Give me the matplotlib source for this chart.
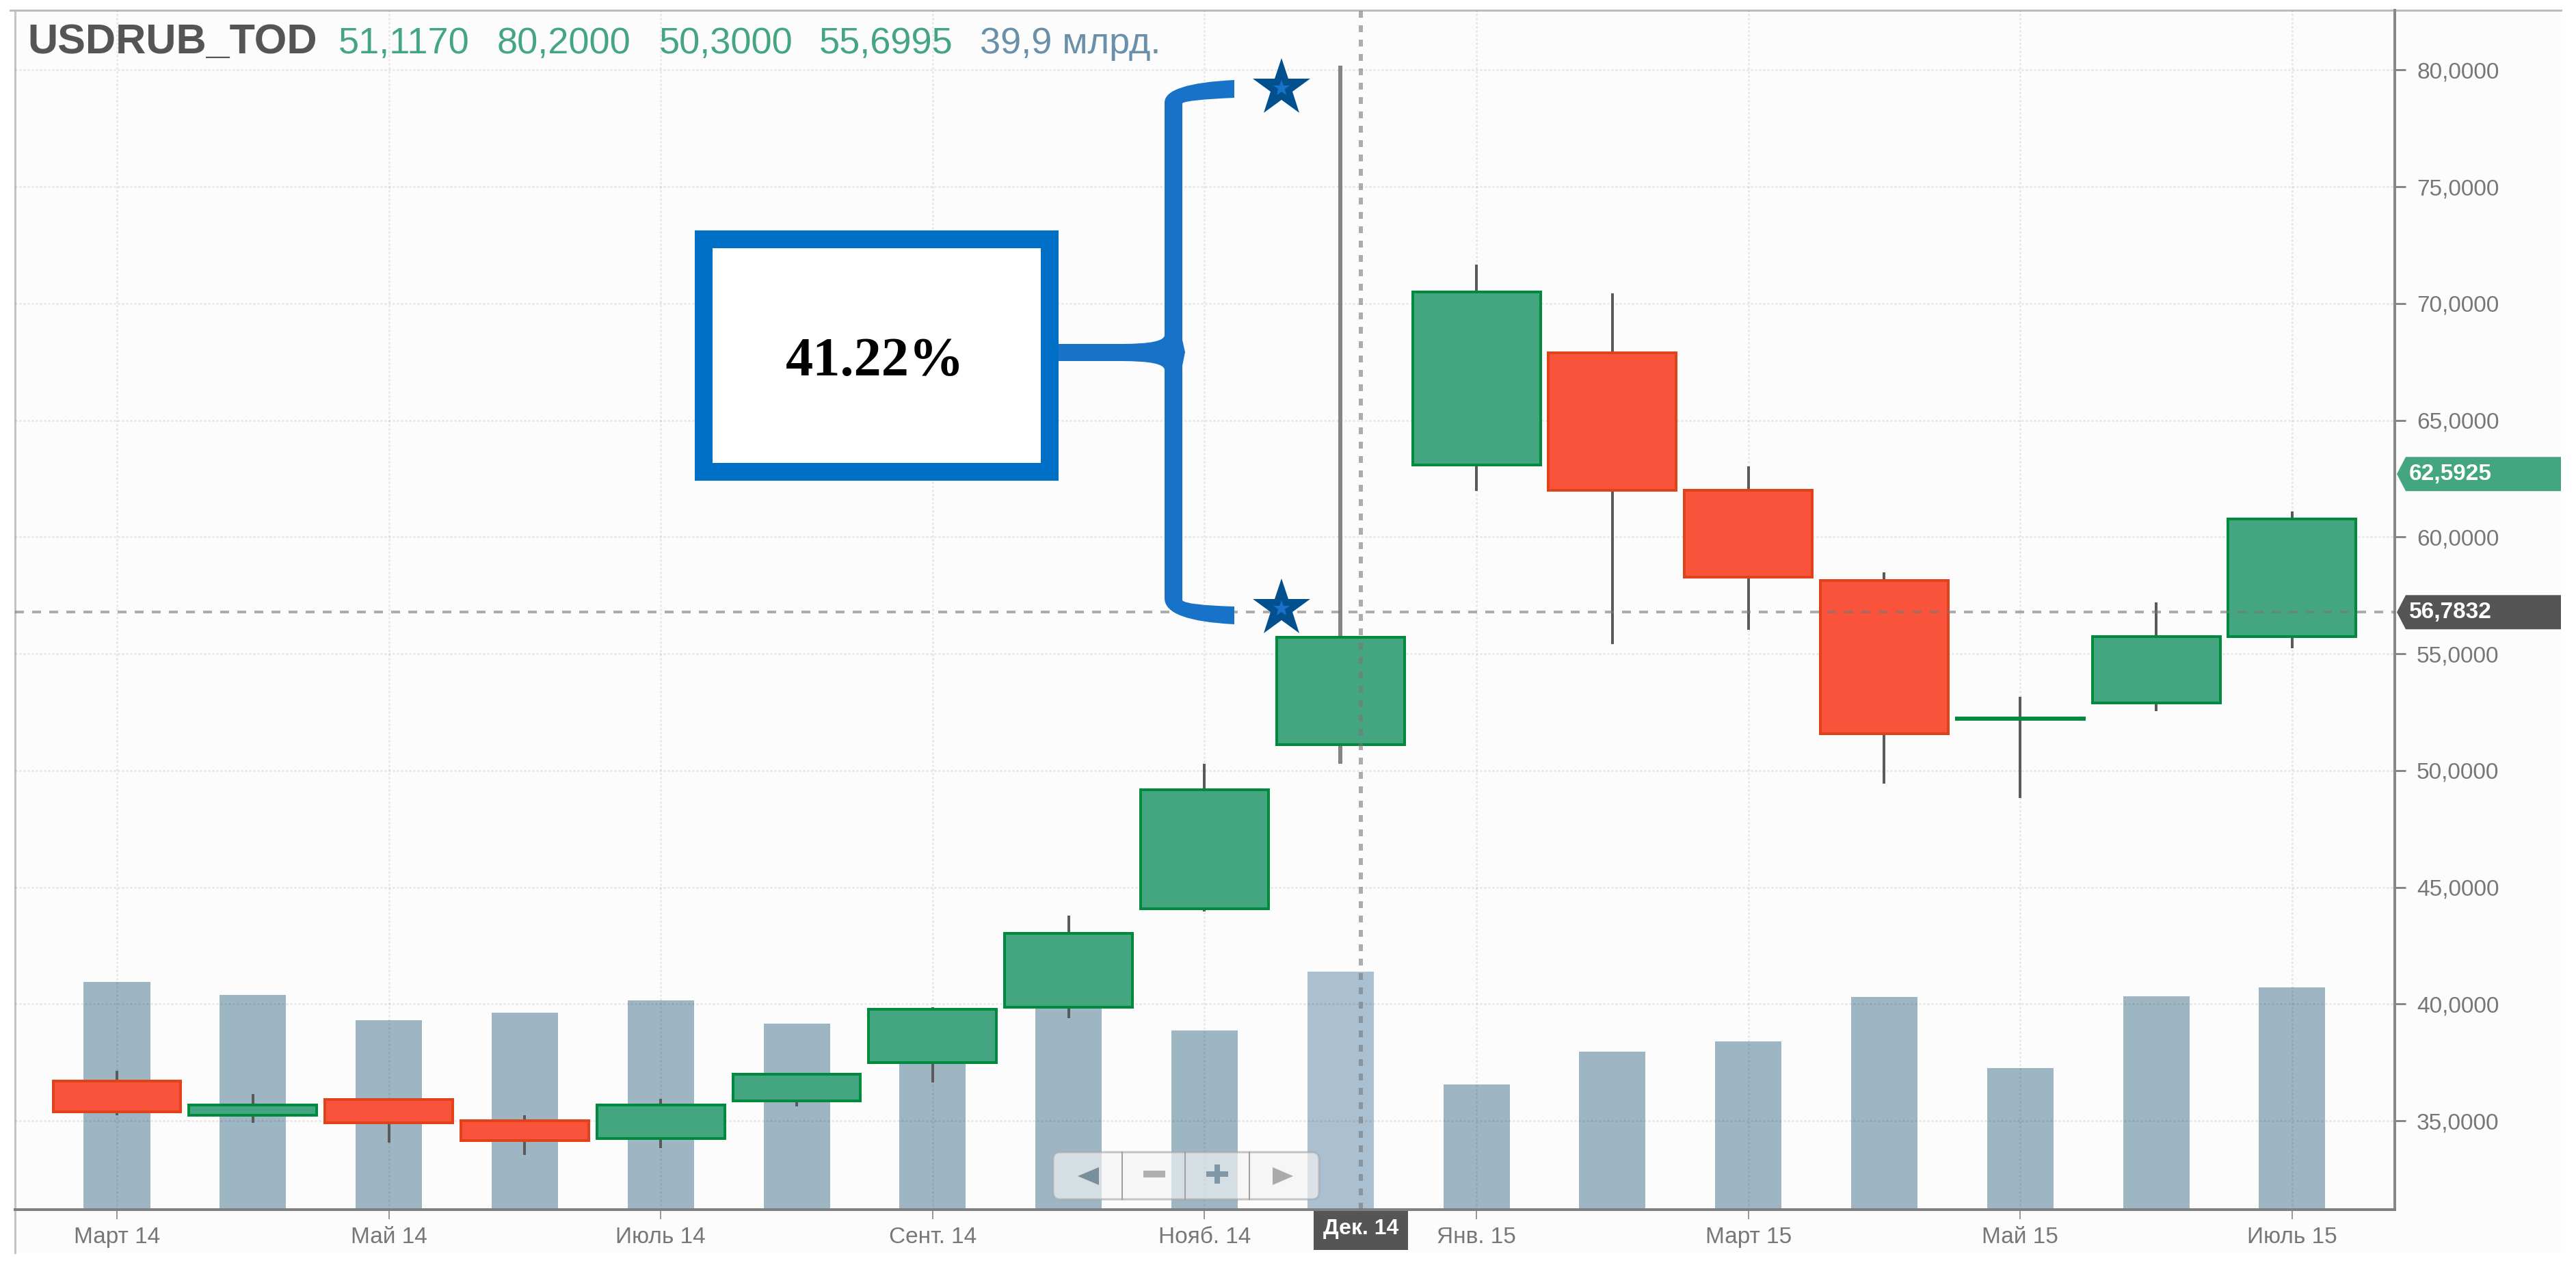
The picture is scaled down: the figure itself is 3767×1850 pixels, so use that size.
import matplotlib
matplotlib.use("Agg")
import matplotlib.pyplot as plt
from matplotlib.patches import Rectangle, Polygon, PathPatch, FancyBboxPatch
from matplotlib.path import Path

plt.rcParams["font.family"] = ["Liberation Sans", "DejaVu Sans"]

opens = [36.71, 35.24, 35.92, 35.01, 34.25, 35.86, 37.50, 39.87, 44.08, 51.117, 63.09, 67.88, 62.0, 58.14, 52.20, 52.90, 55.75]
closes = [35.39, 35.68, 34.92, 34.16, 35.68, 37.00, 39.78, 43.03, 49.18, 55.6995, 70.50, 62.0, 58.29, 51.58, 52.25, 55.75, 60.78]
highs = [37.15, 36.15, 35.92, 35.24, 35.94, 37.00, 39.87, 43.79, 50.29, 80.2, 71.67, 70.45, 63.03, 58.49, 53.16, 57.19, 61.11]
lows = [35.24, 34.92, 34.07, 33.54, 33.84, 35.62, 36.65, 39.40, 43.97, 50.3, 61.98, 55.41, 56.03, 49.44, 48.83, 52.55, 55.25]
volumes = [38.2, 36.0, 31.8, 33.0, 35.1, 31.2, 33.8, 36.6, 30.0, 39.9, 21.0, 26.5, 28.2, 35.6, 23.7, 35.8, 37.3]

month_pos = [0, 2, 4, 6, 8, 10, 12, 14, 16]
month_labels = ["Март 14", "Май 14", "Июль 14", "Сент. 14", "Нояб. 14", "Янв. 15", "Март 15", "Май 15", "Июль 15"]
price_ticks = [35, 40, 45, 50, 55, 60, 65, 70, 75, 80]
price_labels = ["35,0000", "40,0000", "45,0000", "50,0000", "55,0000", "60,0000", "65,0000", "70,0000", "75,0000", "80,0000"]

header_values = ["51,1170", "80,2000", "50,3000", "55,6995"]
header_x = [495, 727, 964, 1198]
last_price = 62.7
cross_price = 56.7832
cross_x = 9.15

W, H = 3767, 1850
PX = 0.72  # points per pixel at dpi 100
GREEN, GREEN_EDGE = "#43a680", "#008a3e"
RED, RED_EDGE = "#fa533c", "#e0421a"
BLUE = "#1872c8"

fig = plt.figure(figsize=(W / 100, H / 100), dpi=100, facecolor="white")
rect = [22 / W, 1 - 1769 / H, (3502 - 22) / W, (1769 - 15) / H]

# page layer in pixel coordinates, for the frame and the drawn-on notes
bg = fig.add_axes([0, 0, 1, 1], zorder=0)
bg.set_xlim(0, W)
bg.set_ylim(H, 0)
bg.axis("off")
bg.add_patch(Rectangle((22, 15), 3723, 1817, fc="#fcfcfc", ec="none"))
bg.plot([22, 22], [15, 1832], color="#c4c4c4", lw=3 * PX)
bg.plot([15, 3745], [15, 15], color="#bdbdbd", lw=3 * PX)

# volume sits under the candles on its own scale
vol = fig.add_axes(rect, zorder=1)
vol.patch.set_alpha(0)
vol.set_xlim(-0.7495, 16.755)
vol.set_ylim(0, 201.1)
vol.axis("off")
xs = list(range(len(volumes)))
vol_colors = ["#9cb6c9" if i == 9 else "#8eaabb" for i in xs]
vol.bar(xs, volumes, width=0.488, color=vol_colors, alpha=0.85, linewidth=0)

ax = fig.add_axes(rect, zorder=2)
ax.patch.set_alpha(0)
ax.set_xlim(-0.7495, 16.755)
ax.set_ylim(31.2, 82.56)
ax.yaxis.tick_right()
ax.set_yticks(price_ticks)
ax.set_yticklabels(price_labels, fontsize=24, color="#777777")
ax.set_xticks(month_pos)
ax.set_xticklabels(month_labels, fontsize=24, color="#777777")
ax.tick_params(axis="y", length=16 * PX, width=3 * PX, color="#888888", pad=16 * PX)
ax.tick_params(axis="x", length=14 * PX, width=2 * PX, color="#999999", pad=11 * PX)
ax.grid(True, color="black", alpha=0.08, lw=3 * PX, linestyle=(0, (1, 1)))
ax.set_axisbelow(True)
ax.spines["top"].set_visible(False)
ax.spines["left"].set_visible(False)
ax.spines["right"].set_color("#888888")
ax.spines["right"].set_linewidth(4 * PX)
ax.spines["bottom"].set_color("#808080")
ax.spines["bottom"].set_linewidth(4 * PX)

for i in xs:
    if i == 9:
        ax.vlines(i, lows[i], highs[i], color="#858585", lw=6 * PX, zorder=3)
    else:
        ax.vlines(i, lows[i], highs[i], color="#5a5a5a", lw=4 * PX, zorder=3)
    up = closes[i] >= opens[i]
    ax.bar(i, closes[i] - opens[i], bottom=opens[i], width=0.94,
           color=GREEN if up else RED, edgecolor=GREEN_EDGE if up else RED_EDGE,
           linewidth=4 * PX, zorder=4)

# crosshair
ax.axhline(cross_price, color="#777777", alpha=0.6, lw=4 * PX, dashes=(13 / 4, 12 / 4), zorder=5)
ax.axvline(cross_x, color="#777777", alpha=0.6, lw=6 * PX, dashes=(10 / 6, 11 / 6), zorder=5)

ov = fig.add_axes([0, 0, 1, 1], zorder=3)
ov.patch.set_alpha(0)
ov.set_xlim(0, W)
ov.set_ylim(H, 0)
ov.axis("off")


def price_y(v):
    disp = ax.transData.transform((0, v))
    return ov.transData.inverted().transform(disp)[1]


# header
ov.text(40, 78, "USDRUB_TOD", fontsize=44, fontweight="bold", color="#555555", va="baseline")
for x, s in zip(header_x, header_values):
    ov.text(x, 78, s, fontsize=39, color=GREEN, va="baseline")
ov.text(1433, 78, "39,9 млрд.", fontsize=39, color="#6a8fa8", va="baseline")

# price tags on the right
for v, s, c in [(last_price, "62,5925", GREEN), (cross_price, "56,7832", "#555555")]:
    y = price_y(v)
    ov.add_patch(Polygon([(3505, y), (3518, y - 25), (3745, y - 25), (3745, y + 25), (3518, y + 25)],
                         fc=c, ec="none"))
    ov.text(3523, y, s, fontsize=24, fontweight="bold", color="white", va="center")

# crosshair date box
cx = ov.transData.inverted().transform(ax.transData.transform((cross_x, 40)))[0]
ov.add_patch(Rectangle((1921, 1771), 138, 57, fc="#555555", ec="none"))
ov.text(cx, 1797, "Дек. 14", fontsize=23, fontweight="bold", color="white", ha="center", va="center")

# zoom buttons
ov.add_patch(FancyBboxPatch((1548, 1693), 373, 53, boxstyle="round,pad=8,rounding_size=10",
                            fc="#f4f4f4", ec="#a8a8a8", alpha=0.65, lw=3 * PX))
for x in [1641, 1733, 1827]:
    ov.plot([x, x], [1685, 1754], color="#a0a0a0", lw=2 * PX)
ov.add_patch(Polygon([(1576, 1720), (1607, 1707), (1607, 1733)], fc="#7a8f9c", ec="none"))
ov.add_patch(Rectangle((1672, 1712), 32, 10, fc="#b0b0b0", ec="none"))
ov.add_patch(Rectangle((1764, 1713), 32, 8, fc="#7f97a7", ec="none"))
ov.add_patch(Rectangle((1776, 1703), 8, 28, fc="#7f97a7", ec="none"))
ov.add_patch(Polygon([(1891, 1720), (1861, 1707), (1861, 1733)], fc="#aaaaaa", ec="none"))

# brace
M, L, C, Z = Path.MOVETO, Path.LINETO, Path.CURVE3, Path.CLOSEPOLY
brace = [
    ((1805, 117), M), ((1703, 122), C), ((1703, 150), C),
    ((1703, 490), L), ((1703, 503), C), ((1640, 503), C),
    ((1548, 503), L), ((1548, 528), L), ((1640, 528), L),
    ((1703, 528), C), ((1703, 541), C),
    ((1703, 875), L), ((1703, 908), C), ((1805, 913), C),
    ((1805, 887), L), ((1735, 885), C), ((1729, 878), C),
    ((1729, 535), L), ((1733, 515), L), ((1729, 497), L),
    ((1729, 151), L), ((1735, 146), C), ((1805, 143), C),
    ((1805, 117), Z),
]
ov.add_patch(PathPatch(Path([p for p, _ in brace], [c for _, c in brace]), fc=BLUE, ec="none"))

# note box
ov.add_patch(Rectangle((1029, 350), 506, 340, fc="white", ec="#0070c6", lw=26 * PX, joinstyle="miter"))
ov.text(1280, 530, "41.22%", fontsize=58, fontweight="bold", family="Liberation Serif",
        color="black", ha="center", va="center")

# stars
for y in [129, 890]:
    ov.plot([1874], [y], marker="*", ms=88 * PX, color="#03508f", mew=0, ls="none")
    ov.plot([1874], [y], marker="*", ms=25 * PX, color=BLUE, mew=0, ls="none")

fig.savefig("out.png", dpi=100)
